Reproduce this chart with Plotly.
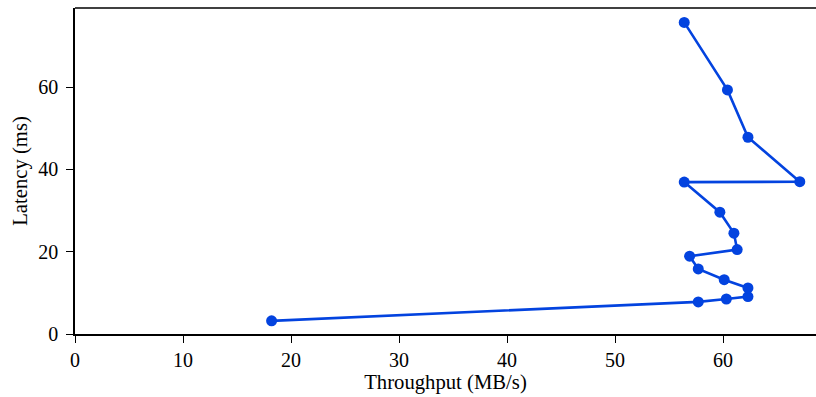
import plotly.graph_objects as go

# Throughput vs latency measurements, ordered by latency
throughput_mbs = [18.2, 57.7, 60.3, 62.3, 62.3, 60.1, 57.7, 56.9, 61.3, 61.0,
                  59.7, 56.4, 67.1, 62.3, 60.4, 56.4]
latency_ms = [3.2, 7.8, 8.5, 9.1, 11.2, 13.2, 15.8, 18.9, 20.5, 24.5,
              29.6, 36.9, 37.0, 47.8, 59.3, 75.7]

x_ticks = [0, 10, 20, 30, 40, 50, 60]
y_ticks = [0, 20, 40, 60]

LINE_BLUE = "#0343DF"
FONT = "Liberation Serif"

fig = go.Figure(
    go.Scatter(
        x=throughput_mbs,
        y=latency_ms,
        mode="lines+markers",
        line=dict(color=LINE_BLUE, width=2.6),
        marker=dict(color=LINE_BLUE, size=11),
        cliponaxis=False,
    )
)

axis_common = dict(
    showgrid=False,
    zeroline=False,
    showline=True,
    linecolor="black",
    linewidth=1.6,
    ticks="outside",
    ticklen=7,
    tickwidth=1.4,
    tickcolor="black",
    tickfont=dict(family=FONT, size=20, color="black"),
    title_font=dict(family=FONT, size=20.7, color="black"),
)

fig.update_xaxes(
    **axis_common,
    range=[0, 68.6],
    tickvals=x_ticks,
    title_text="Throughput (MB/s)",
    title_standoff=4,
)
fig.update_yaxes(
    **axis_common,
    range=[0, 79.2],
    tickvals=y_ticks,
    title_text="Latency (ms)",
    title_standoff=5,
    ticklabelstandoff=4,
)

# top spine (no right spine within view)
fig.add_shape(
    type="line", xref="paper", yref="paper",
    x0=0, x1=1, y0=1, y1=1,
    line=dict(color="black", width=1.6),
)

fig.update_layout(
    width=816,
    height=397,
    margin=dict(l=75, r=0, t=8, b=63),
    paper_bgcolor="white",
    plot_bgcolor="white",
    showlegend=False,
)

fig.write_html("out.html")
